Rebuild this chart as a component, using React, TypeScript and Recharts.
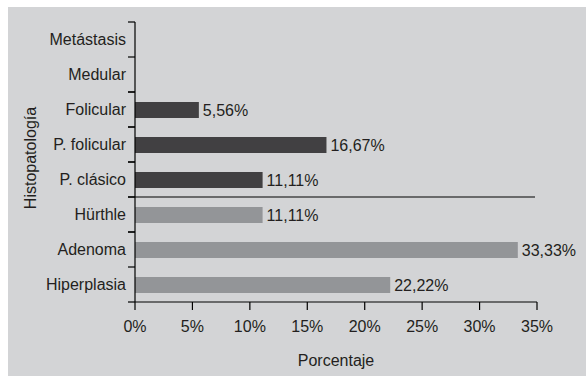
import { Bar, BarChart, Cell, LabelList, ReferenceArea, XAxis, YAxis } from "recharts";

const categories = [
  "Metástasis",
  "Medular",
  "Folicular",
  "P. folicular",
  "P. clásico",
  "Hürthle",
  "Adenoma",
  "Hiperplasia"
];
const percentages = [0, 0, 5.56, 16.67, 11.11, 11.11, 33.33, 22.22];
const groups = ["maligno", "maligno", "maligno", "maligno", "maligno", "benigno", "benigno", "benigno"];
const xTicks = [0, 5, 10, 15, 20, 25, 30, 35];

const groupColors: Record<string, string> = { maligno: "#414042", benigno: "#939598" };
const textColor = "#231f20";
const font = 16;

const data = categories.map((name, i) => ({ name, value: percentages[i], group: groups[i] }));
const firstBenign = categories[groups.indexOf("benigno")];
const lastCategory = categories[categories.length - 1];
const categoryPairs = categories.slice(0, -1).map((c, i) => [c, categories[i + 1]]);

const pct = (v: number) => (v ? `${v.toFixed(2).replace(".", ",")}%` : "");

const lineStyle = { stroke: "#000", strokeWidth: 1.2 };

// tick marks on the band edges, outside the axis
const EdgeTicks = (p: any) => (
  <g>
    <line x1={p.x - 7} y1={p.y} x2={p.x} y2={p.y} {...lineStyle} />
    <line x1={p.x - 7} y1={p.y + p.height} x2={p.x} y2={p.y + p.height} {...lineStyle} />
  </g>
);

// line across the plot on top of the benign group
const GroupSeparator = (p: any) => (
  <line x1={p.x} y1={p.y} x2={p.x + p.width - 2} y2={p.y} {...lineStyle} />
);

export default function App() {
  return (
    <div
      style={{
        marginLeft: 8,
        marginTop: 7,
        width: 578,
        height: 369,
        background: "#d3d4d6",
        fontFamily: '"Liberation Sans", Arial, sans-serif'
      }}
    >
      <style>{"body{margin:0}"}</style>
      <BarChart
        width={578}
        height={369}
        data={data}
        layout="vertical"
        margin={{ top: 15, right: 49, bottom: 0, left: 0 }}
      >
        <YAxis
          type="category"
          dataKey="name"
          width={127}
          interval={0}
          axisLine={lineStyle}
          tickLine={false}
          tickMargin={3}
          tick={{ fill: textColor, fontSize: font }}
          label={{
            content: ({ viewBox }: any) => {
              const cx = viewBox.x + 22;
              const cy = viewBox.y + viewBox.height / 2 - 4;
              return (
                <text
                  x={cx}
                  y={cy}
                  transform={`rotate(-90 ${cx} ${cy})`}
                  textAnchor="middle"
                  dominantBaseline="central"
                  fontSize={font}
                  fill={textColor}
                >
                  Histopatología
                </text>
              );
            }
          }}
        />
        <XAxis
          type="number"
          domain={[0, 35]}
          ticks={xTicks}
          tickFormatter={(v) => `${v}%`}
          height={74}
          tickSize={8}
          tickMargin={11}
          tick={{ fill: textColor, fontSize: font }}
          axisLine={lineStyle}
          tickLine={lineStyle}
          label={{ value: "Porcentaje", position: "insideBottom", offset: 10, fill: textColor, fontSize: font }}
        />
        {categoryPairs.map(([a, b]) => (
          <ReferenceArea key={a} y1={a} y2={b} ifOverflow="visible" shape={EdgeTicks} />
        ))}
        <ReferenceArea y1={firstBenign} y2={lastCategory} ifOverflow="visible" shape={GroupSeparator} />
        <Bar dataKey="value" barSize={16} isAnimationActive={false}>
          {data.map((d) => (
            <Cell key={d.name} fill={groupColors[d.group]} />
          ))}
          <LabelList
            dataKey="value"
            position="right"
            offset={4}
            formatter={(v: any) => pct(Number(v))}
            fill={textColor}
            fontSize={font}
          />
        </Bar>
      </BarChart>
    </div>
  );
}
